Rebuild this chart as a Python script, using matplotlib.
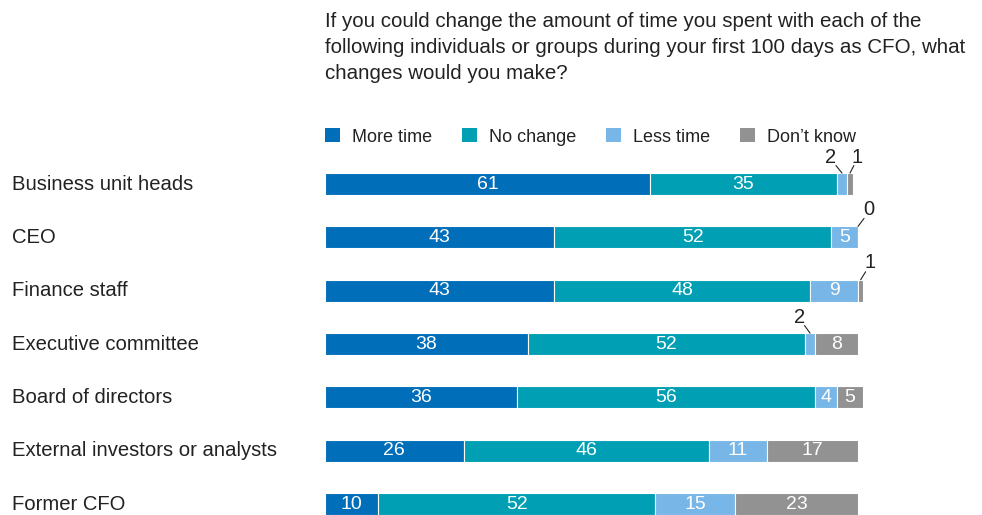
import matplotlib.pyplot as plt
from matplotlib.patches import Patch
import numpy as np

plt.rcParams['font.family'] = ['Liberation Sans', 'DejaVu Sans']

# Data
categories = ['Business unit heads', 'CEO', 'Finance staff', 'Executive committee',
              'Board of directors', 'External investors or analysts', 'Former CFO']
series = ['More time', 'No change', 'Less time', "Don\u2019t know"]
more_time = [61, 43, 43, 38, 36, 26, 10]
no_change = [35, 52, 48, 52, 56, 46, 52]
less_time = [2, 5, 9, 2, 4, 11, 15]
dont_know = [1, 0, 1, 8, 5, 17, 23]

COLORS = ['#006EB9', '#009FB3', '#77B6E6', '#929292']
TEXT = '#222222'

# small values get a leader-line label: (row, series index) -> text offset in px
callouts = {(0, 2): (-11, 16), (0, 3): (7, 16), (1, 3): (11, 17),
            (2, 3): (9, 17), (3, 2): (-10, 16)}

fig = plt.figure(figsize=(9.82, 5.15), dpi=100)
fig.patch.set_facecolor('white')
# x scale: 0 -> 325 px, 100 -> 858 px
ax = fig.add_axes([325 / 982, 0, 533 / 982 * 1.1, 355 / 515])
ax.set_xlim(0, 110)
ax.set_ylim(6.206, -0.45)
ax.axis('off')

data = np.array([more_time, no_change, less_time, dont_know])
y = np.arange(len(categories))
bar_h = 0.41
left = np.zeros(len(categories))
for s, vals in enumerate(data):
    ax.barh(y, vals, left=left, height=bar_h, color=COLORS[s],
            edgecolor='white', linewidth=0.8, label=series[s])
    for i, v in enumerate(vals):
        cx = left[i] + v / 2
        if (i, s) in callouts:
            dx, dy = callouts[(i, s)]
            top = (cx, y[i] - bar_h / 2)
            # leader line
            ax.annotate('', xy=top, xytext=(0.55 * dx * 0.72, 0.47 * dy * 0.72),
                        textcoords='offset points',
                        arrowprops=dict(arrowstyle='-', color=TEXT, lw=0.8,
                                        shrinkA=0, shrinkB=0))
            ax.annotate(str(v), xy=top, xytext=(dx * 0.72, dy * 0.72),
                        textcoords='offset points', ha='center', va='center',
                        fontsize=14.5, color=TEXT)
        elif v >= 3:
            ax.text(cx, y[i], str(v), ha='center', va='center',
                    fontsize=14, color='white')
    left += vals

# category labels
for i, cat in enumerate(categories):
    ax.annotate(cat, xy=(0, y[i]), xycoords=('figure fraction', 'data'),
                xytext=(12 * 0.72, 0), textcoords='offset points',
                ha='left', va='center', fontsize=14.6, color=TEXT)

# title
fig.text(325 / 982, 1 - 12 / 515,
         'If you could change the amount of time you spent with each of the\n'
         'following individuals or groups during your first 100 days as CFO, what\n'
         'changes would you make?',
         ha='left', va='top', fontsize=14.8, color=TEXT, linespacing=1.47)

# legend
handles = [Patch(facecolor=c, edgecolor='none') for c in COLORS]
fig.legend(handles, series, loc='center left',
           bbox_to_anchor=(325 / 982, 1 - 137 / 515), ncol=4, frameon=False,
           fontsize=13, handlelength=0.83, handleheight=0.83,
           handletextpad=0.66, columnspacing=1.66, labelcolor=TEXT,
           borderaxespad=0, borderpad=0)

plt.savefig('out.png', dpi=100, facecolor='white')
